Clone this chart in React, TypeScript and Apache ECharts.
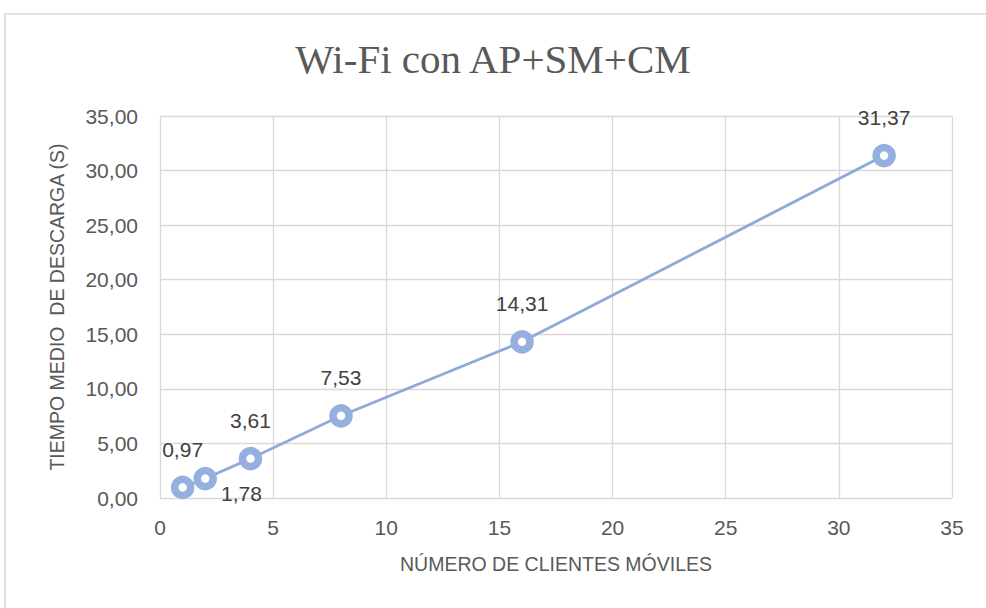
import React, { useEffect, useRef } from "react";
import * as echarts from "echarts";

const clientes = [1, 2, 4, 8, 16, 32];
const tiempos = [0.97, 1.78, 3.61, 7.53, 14.31, 31.37];
const labelBelow = [false, true, false, false, false, false];
const titleText = "Wi-Fi con AP+SM+CM";
const xName = "NÚMERO DE CLIENTES MÓVILES";
const yName = "TIEMPO MEDIO  DE DESCARGA (S)";

const fmt = (v: number) => v.toFixed(2).replace(".", ",");

export default function App() {
  const ref = useRef<HTMLDivElement>(null);
  useEffect(() => {
    if (!ref.current) return;
    const chart = echarts.init(ref.current, undefined, { renderer: "svg" });
    const font = "'Liberation Sans', 'Open Sans', sans-serif";
    const gray = "#595959";
    const data = clientes.map((x, i) => {
      const item: any = { value: [x, tiempos[i]] };
      if (labelBelow[i]) {
        item.label = { position: "right", distance: 4, offset: [0, 15] };
      }
      return item;
    });
    chart.setOption({
      animation: false,
      backgroundColor: "#ffffff",
      title: {
        text: titleText,
        left: "center",
        top: 33,
        textStyle: {
          fontFamily: "'Liberation Serif', serif",
          fontWeight: "normal",
          fontSize: 41,
          color: gray,
        },
      },
      graphic: [
        {
          type: "rect",
          shape: { x: 5, y: 14, width: 1100, height: 800 },
          style: { fill: "none", stroke: "#d9d9d9", lineWidth: 1.5 },
          silent: true,
          z: -1,
        },
      ],
      grid: { left: 160, right: 34, top: 116, bottom: 110, containLabel: false },
      xAxis: {
        type: "value",
        min: 0,
        max: 35,
        interval: 5,
        name: xName,
        nameLocation: "middle",
        nameGap: 56,
        nameTextStyle: { fontFamily: font, fontSize: 19.5, color: gray },
        axisLine: { show: false },
        axisTick: { show: false },
        axisLabel: { fontFamily: font, fontSize: 21, color: gray, margin: 19 },
        splitLine: { show: true, lineStyle: { color: "#d9d9d9", width: 1.3 } },
      },
      yAxis: {
        type: "value",
        min: 0,
        max: 35,
        interval: 5,
        name: yName,
        nameLocation: "middle",
        nameGap: 93,
        nameRotate: 90,
        nameTextStyle: { fontFamily: font, fontSize: 19.5, color: gray },
        axisLine: { show: false },
        axisTick: { show: false },
        axisLabel: {
          fontFamily: font,
          fontSize: 21,
          color: gray,
          margin: 22,
          formatter: (v: number) => fmt(v),
        },
        splitLine: { show: true, lineStyle: { color: "#d9d9d9", width: 1.3 } },
      },
      series: [
        {
          type: "line",
          data,
          symbol: "circle",
          symbolSize: 16,
          lineStyle: { color: "#8eaadb", width: 2.8 },
          itemStyle: { color: "#ffffff", borderColor: "#95b0de", borderWidth: 7.5 },
          label: {
            show: true,
            position: "top",
            distance: 16,
            fontFamily: font,
            fontSize: 21,
            color: "#404040",
            formatter: (p: any) => fmt(p.value[1]),
          },
        },
      ],
    });
    return () => chart.dispose();
  }, []);
  return (
    <div
      ref={ref}
      style={{ position: "fixed", left: 0, top: 0, width: 986, height: 608 }}
    />
  );
}
